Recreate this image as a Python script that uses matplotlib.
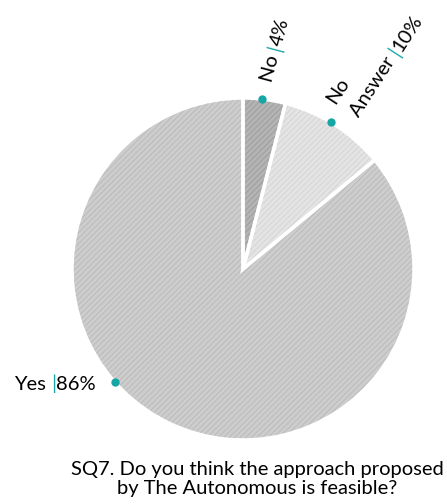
import numpy as np
import matplotlib
matplotlib.use("Agg")
import matplotlib.pyplot as plt

# data
labels = ["No", "No Answer", "Yes"]
values = [4, 10, 86]
pct_text = ["4%", "10%", "86%"]
title = "SQ7. Do you think the approach proposed\nby The Autonomous is feasible?"

face = ["#b4b4b4", "#e4e4e4", "#cdcdcd"]
hatchc = ["#9a9a9a", "#d2d2d2", "#b8b8b8"]
teal = "#17a6a6"
W, H = 447, 504

plt.rcParams["font.family"] = ["Lato", "DejaVu Sans"]
plt.rcParams["hatch.linewidth"] = 0.6

fig = plt.figure(figsize=(W / 100, H / 100), dpi=100)
ax = fig.add_axes([0, 0, 1, 1])

cx, cy, r = 243, H - 269, 171

# hatched fill
wedges, _ = ax.pie(values, colors=face, startangle=90, counterclock=False,
                   center=(cx, cy), radius=r, frame=True,
                   wedgeprops=dict(linewidth=0))
for w, hc in zip(wedges, hatchc):
    w.set_hatch("//////")
    w.set_edgecolor(hc)
# white borders on top
ax.pie(values, colors=["none"] * 3, startangle=90, counterclock=False,
       center=(cx, cy), radius=r, frame=True,
       wedgeprops=dict(linewidth=2.5, edgecolor="white", fill=False))

ax.set_xlim(0, W)
ax.set_ylim(0, H)
ax.set_aspect("auto")
ax.axis("off")

# dots on rim (angle clockwise from top)
dot_ang = [6.5, 31, 228.7]
for a in dot_ang:
    t = np.deg2rad(90 - a)
    ax.plot(cx + r * np.cos(t), cy + r * np.sin(t), "o", color=teal,
            markersize=6, markeredgewidth=0, zorder=5)

fs = 14.5
half_cap = 0.36 * fs * 100 / 72
renderer = fig.canvas.get_renderer()


def width(s):
    t = ax.text(0, 0, s, fontsize=fs)
    w = t.get_window_extent(renderer).width
    t.remove()
    return w


def label(x, y, name, pct, rot, color_bar=True):
    # name + space, teal bar, pct along a rotated baseline
    a = np.deg2rad(rot)
    d = np.array([np.cos(a), np.sin(a)])
    down = np.array([np.sin(a), -np.cos(a)])
    pos = np.array([x, H - y], float) + down * half_cap
    kw = dict(fontsize=fs, rotation=rot, rotation_mode="anchor",
              ha="left", va="baseline")
    if pct is None:
        ax.text(*pos, name, color="black", **kw)
        return
    pre = name + " "
    w_pre = width(pre + "|") - width("|")
    w_bar = width(pre + "|") - w_pre
    ax.text(*pos, pre, color="black", **kw)
    ax.text(*(pos + d * w_pre), "|", color=teal, **kw)
    ax.text(*(pos + d * (w_pre + w_bar)), pct, color="black", **kw)


label(14, 383, labels[2], pct_text[2], 0)
label(265, 81, labels[0], pct_text[0], 75)
label(329, 101, "No", None, 57)
label(353, 114, "Answer", pct_text[1], 57)

ax.text(257, H - 479, title, fontsize=14.5, ha="center", va="center",
        linespacing=1.1)

fig.savefig("out.png", dpi=100)
